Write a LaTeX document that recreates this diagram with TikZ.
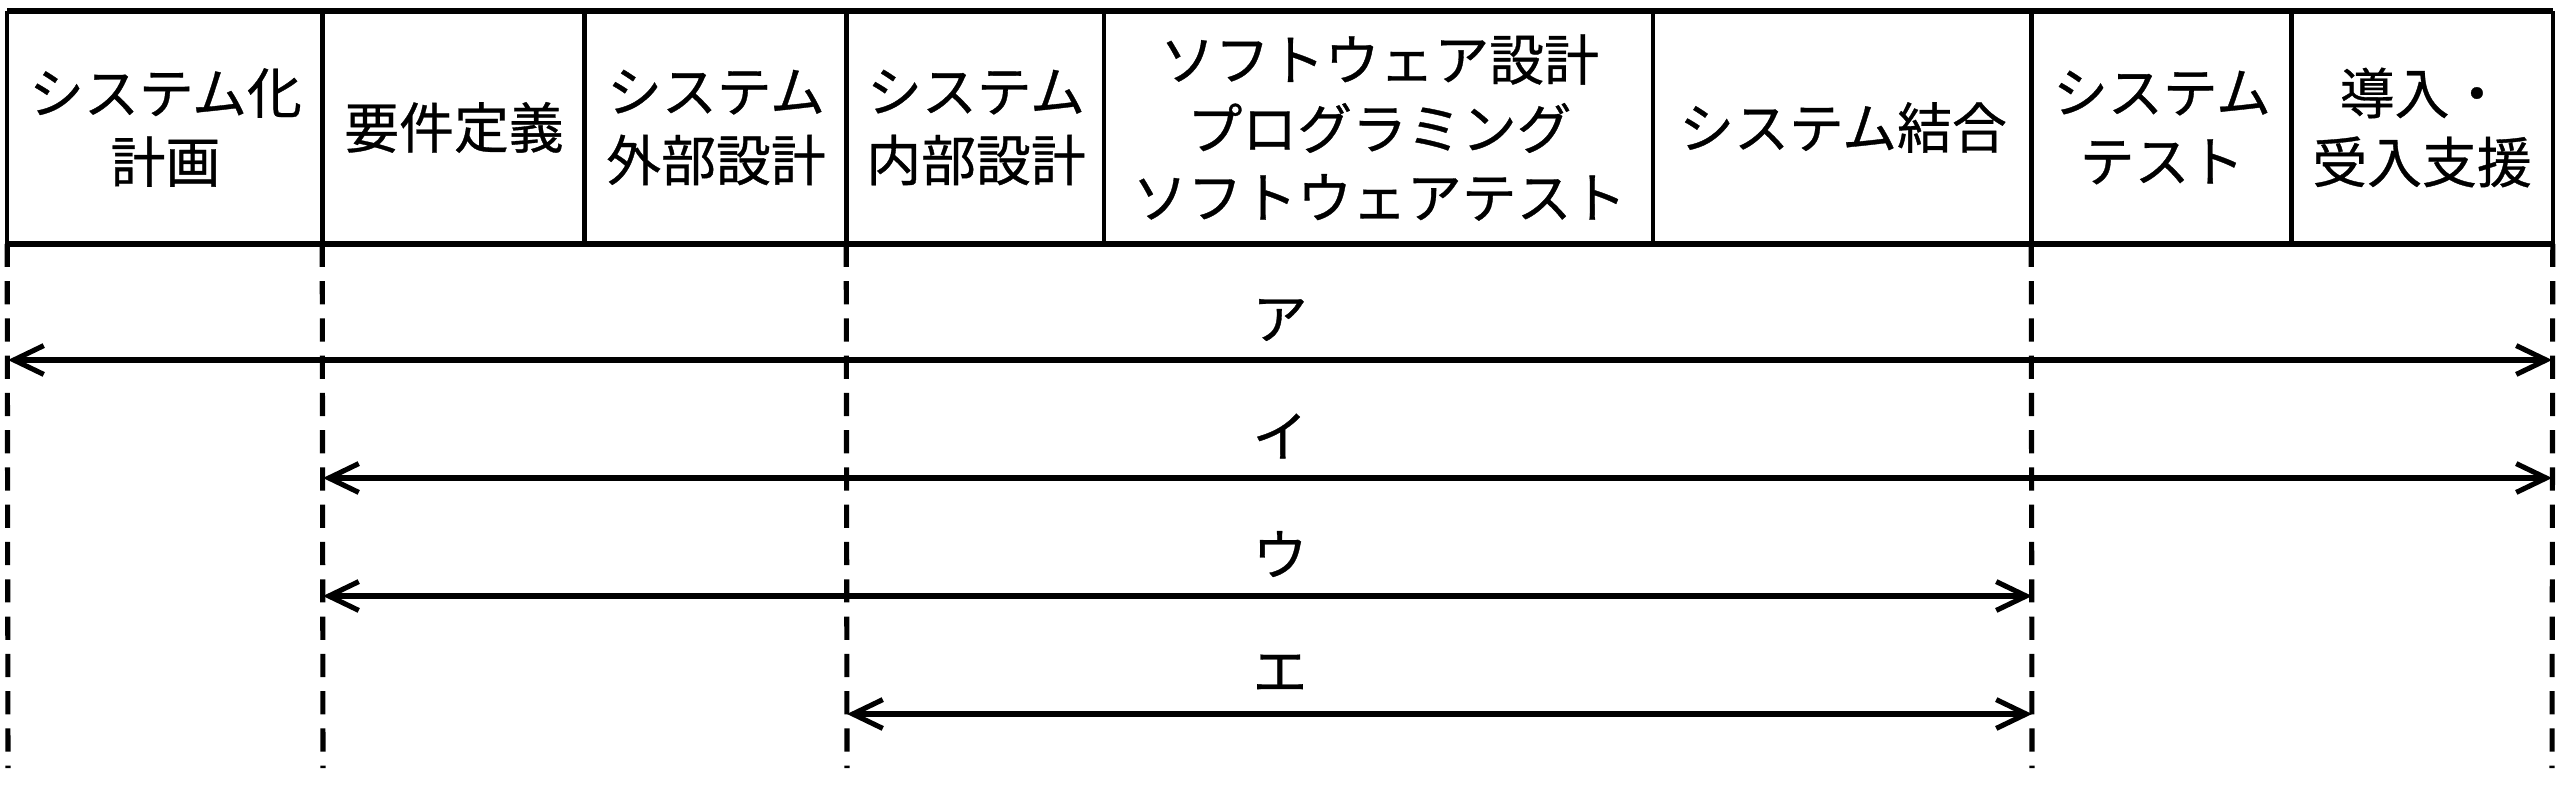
\documentclass[tikz,border=0pt]{standalone}
\usepackage{fontspec}
\setmainfont{Noto Sans CJK JP}[FakeBold=0.6]
\usetikzlibrary{arrows.meta}
\begin{document}
\begin{tikzpicture}[x=0.01cm,y=-0.01cm,
  cell/.style={shape=rectangle,inner sep=0pt,minimum height=2.31cm,align=center,
    font=\fontsize{15.6}{19.6}\selectfont},
  lbl/.style={inner sep=0pt,font=\fontsize{15.6}{19}\selectfont},
  frame/.style={line width=1.7pt},
  divider/.style={line width=1.3pt},
  guide/.style={line width=1.45pt,dash pattern=on 6.6pt off 4pt},
  barb/.tip={Straight Barb[length=8.5pt,width=8.2pt]},
  span/.style={line width=1.45pt,barb-barb}]
\useasboundingbox (0,0) rectangle (2560,784);
% header cells
\node[cell,minimum width=3.15cm] (c1) at (165.5,127.5) {システム化\\計画};
\node[cell,minimum width=2.62cm] (c2) at (454,127.5) {要件定義};
\node[cell,minimum width=2.62cm] (c3) at (716,127.5) {システム\\外部設計};
\node[cell,minimum width=2.58cm] (c4) at (976,127.5) {システム\\内部設計};
\node[cell,minimum width=5.49cm] (c5) at (1379.5,127.5) {ソフトウェア設計\\プログラミング\\ソフトウェアテスト};
\node[cell,minimum width=3.78cm] (c6) at (1843,127.5) {システム結合};
\node[cell,minimum width=2.60cm] (c7) at (2162,127.5) {システム\\テスト};
\node[cell,minimum width=2.60cm] (c8) at (2422,127.5) {導入・\\受入支援};
% frame
\draw[frame] (c1.north west) -- (c8.north east);
\draw[frame] (c1.south west) -- (c8.south east);
\draw[divider] (c1.north west) -- (c1.south west);
\foreach \c in {c2,c3,c4,c5,c6,c7,c8}
  \draw[divider] (\c.north west) -- (\c.south west);
\draw[divider] (c8.north east) -- (c8.south east);
% guide lines
\coordinate (b0) at (8,768);
\coordinate (b1) at (323,768);
\coordinate (b2) at (847,768);
\coordinate (b3) at (2032,768);
\coordinate (b4) at (2552,768);
\draw[guide] (c1.south west) -- (b0);
\draw[guide] (c2.south west) -- (b1);
\draw[guide] (c4.south west) -- (b2);
\draw[guide] (c7.south west) -- (b3);
\draw[guide] (c8.south east) -- (b4);
% arrows
\coordinate (a1l) at (8,360);   \coordinate (a1r) at (2552,360);
\coordinate (a2l) at (323,478); \coordinate (a2r) at (2552,478);
\coordinate (a3l) at (323,596); \coordinate (a3r) at (2032,596);
\coordinate (a4l) at (847,714); \coordinate (a4r) at (2032,714);
\draw[span] (a1l) -- (a1r);
\draw[span] (a2l) -- (a2r);
\draw[span] (a3l) -- (a3r);
\draw[span] (a4l) -- (a4r);
% labels
\node[lbl] (la) at (1280,320) {ア};
\node[lbl] (li) at (1280,436) {イ};
\node[lbl] (lu) at (1280,554) {ウ};
\node[lbl] (le) at (1280,673) {エ};
\end{tikzpicture}
\end{document}
